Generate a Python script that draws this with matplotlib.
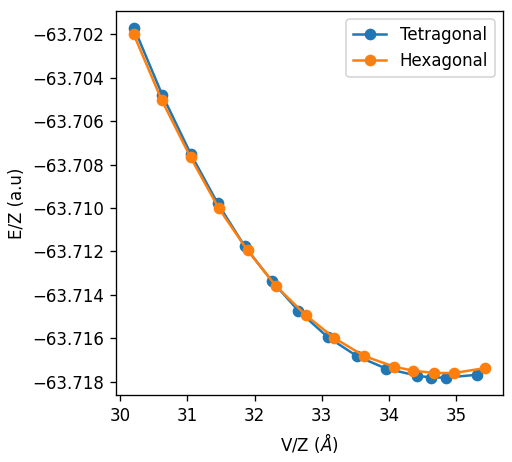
import matplotlib
matplotlib.use('Agg')
import matplotlib.pyplot as plt

vol_tet = [30.208, 30.625, 31.046, 31.448, 31.850, 32.257, 32.653, 33.085,
           33.522, 33.958, 34.415, 34.628, 34.856, 35.317]
e_tet = [-63.70174, -63.70480, -63.70750, -63.70978, -63.71175, -63.71336,
         -63.71473, -63.71593, -63.71681, -63.71739, -63.71771, -63.71780,
         -63.71780, -63.71767]

vol_hex = [30.198, 30.615, 31.046, 31.463, 31.894, 32.321, 32.758, 33.185,
           33.631, 34.077, 34.356, 34.673, 34.975, 35.436]
e_hex = [-63.70200, -63.70503, -63.70767, -63.71000, -63.71195, -63.71360,
         -63.71492, -63.71598, -63.71681, -63.71730, -63.71748, -63.71759,
         -63.71759, -63.71736]

fig = plt.figure(figsize=(512/120, 462/120), dpi=120)
ax = fig.add_axes([0.2266, 0.145, 0.7558, 0.8312])

ax.plot(vol_tet, e_tet, marker='o', label='Tetragonal')
ax.plot(vol_hex, e_hex, marker='o', label='Hexagonal')

ax.set_xlabel(r'V/Z ($\AA$)')
ax.set_ylabel('E/Z (a.u)')
ax.legend(loc='upper right')

fig.savefig('out.png', dpi=120)
